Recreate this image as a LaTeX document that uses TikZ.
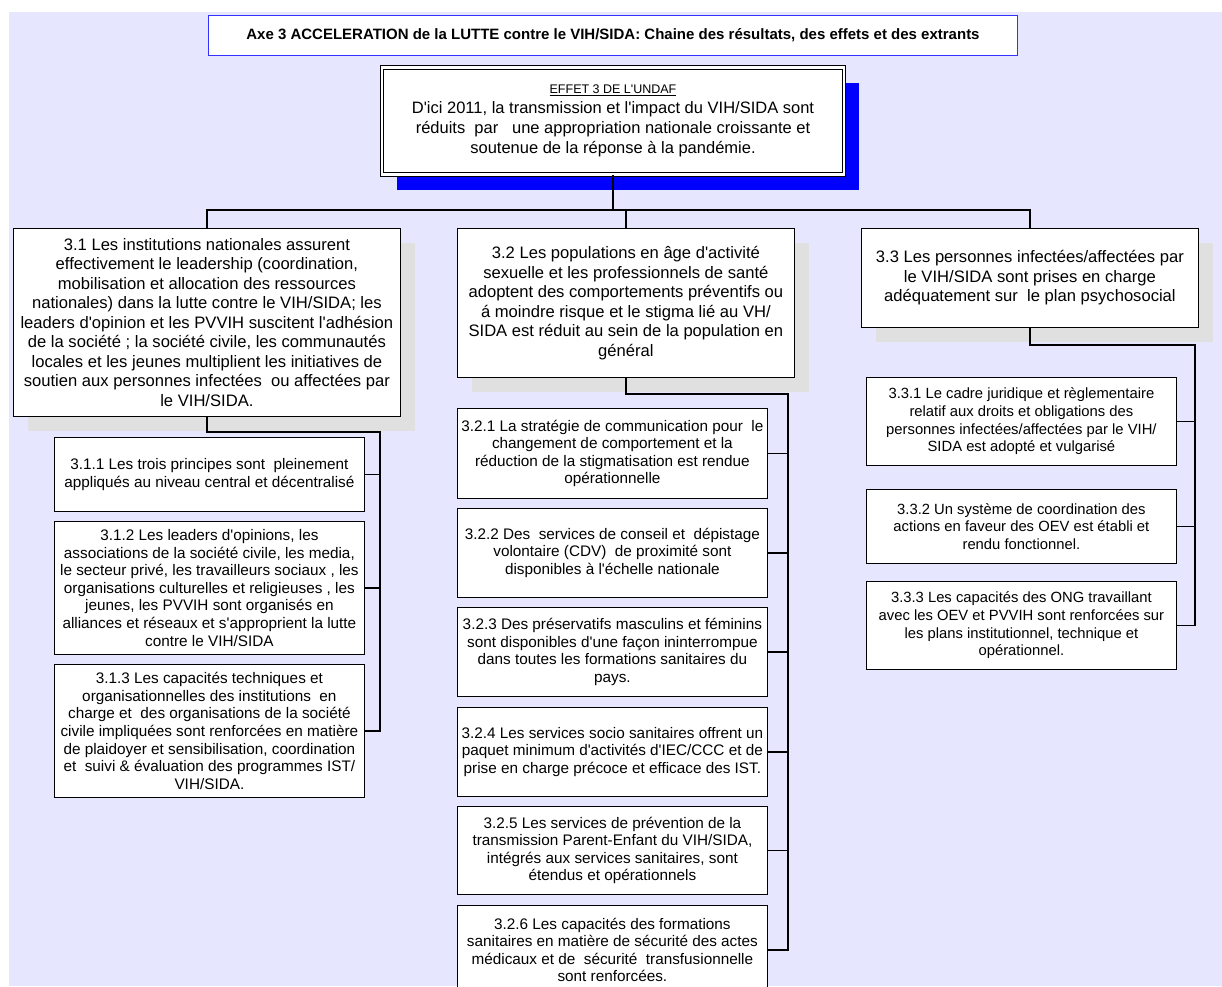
\documentclass[tikz,border=0pt]{standalone}
\usepackage{fontspec}
\setmainfont{Liberation Sans}[Ligatures=TeXOff]
\usetikzlibrary{calc,shadows}
\definecolor{bgcol}{HTML}{E6E6FF}
\definecolor{titleblue}{HTML}{3333FF}
\definecolor{greyshade}{HTML}{E0E0E0}

\begin{document}
\begin{tikzpicture}[x=1pt,y=-1pt,
   result/.style={rectangle,draw,fill=white,anchor=north west,align=center,
    inner sep=+2pt,line width=0.8pt,font=\fontsize{16.6}{19.5}\selectfont,
    drop shadow={shadow xshift=15pt,shadow yshift=-15pt,fill=greyshade,opacity=1}},
   output/.style={rectangle,draw,fill=white,anchor=north west,align=center,
    inner sep=+2pt,line width=0.8pt,minimum width=310pt,
    font=\fontsize{15.3}{17.6}\selectfont},
   link/.style={line width=1.3pt}
    ]

    % page and background
    \useasboundingbox (0,0) rectangle (1222,986);
    \clip (0,0) rectangle (1222,986);
    \fill[bgcol] (9,12) rectangle (1222,986);

    % Title and effect:
    \node[rectangle,draw=titleblue,line width=1pt,fill=white,anchor=north west,
      minimum width=809pt,minimum height=40pt,
      font=\fontsize{15}{17}\selectfont\bfseries] at (208,15) (title)
      {Axe 3 ACCELERATION de la LUTTE contre le VIH/SIDA: Chaine des r\'esultats, des effets et des extrants};
    \node[rectangle,draw,double,double distance=2.6pt,line width=1pt,fill=white,
      anchor=north west,minimum width=462pt,minimum height=107pt,align=center,
      font=\fontsize{16.5}{20}\selectfont,
      drop shadow={shadow xshift=15pt,shadow yshift=-15pt,fill=blue,opacity=1}]
      at (381.5,67) (effet)
      {{\fontsize{12.5}{16}\selectfont\underline{EFFET 3 DE L'UNDAF}}\\
       D'ici 2011, la transmission et l'impact du VIH/SIDA sont\\
       r\'eduits\ \ par\ \ \ une appropriation nationale croissante et\\
       soutenue de la r\'eponse \`a la pand\'emie.};

    % Results:
    \node[result,minimum width=387pt,minimum height=188pt] at (13,228) (r1)
      {3.1 Les institutions nationales assurent\\
       effectivement le leadership (coordination,\\
       mobilisation et allocation des ressources\\
       nationales) dans la lutte contre le VIH/SIDA; les\\
       leaders d'opinion et les PVVIH suscitent l'adh\'esion\\
       de la soci\'et\'e ; la soci\'et\'e civile, les communaut\'es\\
       locales et les jeunes multiplient les initiatives de\\
       soutien aux personnes infect\'ees\ \ ou affect\'ees par\\
       le VIH/SIDA.};
    \node[result,minimum width=337pt,minimum height=149pt] at (457,228) (r2)
      {3.2 Les populations en \^age d'activit\'e\\
       sexuelle et les professionnels de sant\'e\\
       adoptent des comportements pr\'eventifs ou\\
       \'a moindre risque et le stigma li\'e au VH/\\
       SIDA est r\'eduit au sein de la population en\\
       g\'en\'eral};
    \node[result,minimum width=337pt,minimum height=99pt] at (861,228) (r3)
      {3.3 Les personnes infect\'ees/affect\'ees par\\
       le VIH/SIDA sont prises en charge\\
       ad\'equatement sur\ \ le plan psychosocial};

    % Outputs 3.1:
    \node[output,minimum height=74pt] at (54,437) (r11)
      {3.1.1 Les trois principes sont\ \ pleinement\\
       appliqu\'es au niveau central et d\'ecentralis\'e};
    \node[output,minimum height=133pt] at (54,521) (r12)
      {3.1.2 Les leaders d'opinions, les\\
       associations de la soci\'et\'e civile, les media,\\
       le secteur priv\'e, les travailleurs sociaux , les\\
       organisations culturelles et religieuses , les\\
       jeunes, les PVVIH sont organis\'es en\\
       alliances et r\'eseaux et s'approprient la lutte\\
       contre le VIH/SIDA};
    \node[output,minimum height=133pt] at (54,664) (r13)
      {3.1.3 Les capacit\'es techniques et\\
       organisationnelles des institutions\ \ en\\
       charge et\ \ des organisations de la soci\'et\'e\\
       civile impliqu\'ees sont renforc\'ees en mati\`ere\\
       de plaidoyer et sensibilisation, coordination\\
       et\ \ suivi \& \'evaluation des programmes IST/\\
       VIH/SIDA.};

    % Outputs 3.2:
    \node[output,minimum height=90pt] at (457,408) (r21)
      {3.2.1 La strat\'egie de communication pour\ \ le\\
       changement de comportement et la\\
       r\'eduction de la stigmatisation est rendue\\
       op\'erationnelle};
    \node[output,minimum height=89pt] at (457,508) (r22)
      {3.2.2 Des\ \ services de conseil et\ \ d\'epistage\\
       volontaire (CDV)\ \ de proximit\'e sont\\
       disponibles \`a l'\'echelle nationale};
    \node[output,minimum height=89pt] at (457,607) (r23)
      {3.2.3 Des pr\'eservatifs masculins et f\'eminins\\
       sont disponibles d'une fa\c{c}on ininterrompue\\
       dans toutes les formations sanitaires du\\
       pays.};
    \node[output,minimum height=89pt] at (457,707) (r24)
      {3.2.4 Les services socio sanitaires offrent un\\
       paquet minimum d'activit\'es d'IEC/CCC et de\\
       prise en charge pr\'ecoce et efficace des IST.};
    \node[output,minimum height=88pt] at (457,806) (r25)
      {3.2.5 Les services de pr\'evention de la\\
       transmission Parent-Enfant du VIH/SIDA,\\
       int\'egr\'es aux services sanitaires, sont\\
       \'etendus et op\'erationnels};
    \node[output,minimum height=89pt] at (457,905) (r26)
      {3.2.6 Les capacit\'es des formations\\
       sanitaires en mati\`ere de s\'ecurit\'e des actes\\
       m\'edicaux et de\ \ s\'ecurit\'e\ \ transfusionnelle\\
       sont renforc\'ees.};

    % Outputs 3.3:
    \node[output,font=\fontsize{14.8}{17.6}\selectfont,minimum height=88pt]
      at (866,377) (r31)
      {3.3.1 Le cadre juridique et r\`eglementaire\\
       relatif aux droits et obligations des\\
       personnes infect\'ees/affect\'ees par le VIH/\\
       SIDA est adopt\'e et vulgaris\'e};
    \node[output,font=\fontsize{14.8}{17.6}\selectfont,minimum height=74pt]
      at (866,489) (r32)
      {3.3.2 Un syst\`eme de coordination des\\
       actions en faveur des OEV est \'etabli et\\
       rendu fonctionnel.};
    \node[output,font=\fontsize{14.8}{17.6}\selectfont,minimum height=88pt]
      at (866,581) (r33)
      {3.3.3 Les capacit\'es des ONG travaillant\\
       avec les OEV et PVVIH sont renforc\'ees sur\\
       les plans institutionnel, technique et\\
       op\'erationnel.};

    % bus lines
    \coordinate (bus) at (0,210);
    \coordinate (spine1) at (380,432);
    \coordinate (spine2) at (788,394);
    \coordinate (spine3) at (1195,345);

    \draw[link] (effet.south) -- (effet.south |- bus);
    \draw[link] (r1.north) -- (r1.north |- bus) -- (r3.north |- bus) -- (r3.north);
    \draw[link] (r2.north) -- (r2.north |- bus);

    % 3.1 -> outputs
    \draw[link] (r1.south) |- (spine1) -- (spine1 |- r13.east) -- (r13.east);
    \draw[link] (r11.east) -- (spine1 |- r11.east);
    \draw[link] (r12.east) -- (spine1 |- r12.east);

    % 3.2 -> outputs
    \draw[link] (r2.south) |- (spine2) -- (spine2 |- r26.east) -- (r26.east);
    \draw[link] (r21.east) -- (spine2 |- r21.east);
    \draw[link] (r22.east) -- (spine2 |- r22.east);
    \draw[link] (r23.east) -- (spine2 |- r23.east);
    \draw[link] (r24.east) -- (spine2 |- r24.east);
    \draw[link] (r25.east) -- (spine2 |- r25.east);

    % 3.3 -> outputs
    \draw[link] (r3.south) |- (spine3) -- (spine3 |- r33.east) -- (r33.east);
    \draw[link] (r31.east) -- (spine3 |- r31.east);
    \draw[link] (r32.east) -- (spine3 |- r32.east);

\end{tikzpicture}
\end{document}
